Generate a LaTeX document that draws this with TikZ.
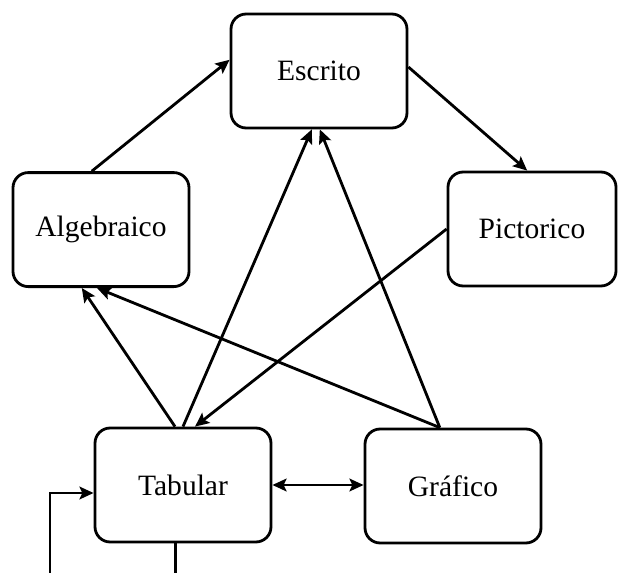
\documentclass[tikz,border=0pt]{standalone}
\usepackage{fontspec}
\setmainfont{Liberation Serif}
\usetikzlibrary{arrows.meta}

\begin{document}
\begin{tikzpicture}[
  repbox/.style={draw, line width=2pt, rounded corners=0.38cm, minimum width=4.4cm, minimum height=2.85cm, font=\fontsize{21}{24}\selectfont},
  arr/.style={line width=2pt, -{Stealth[length=10pt, width=9pt, inset=2pt]}},
  darr/.style={line width=2pt, {Stealth[length=10pt, width=9pt, inset=2pt]}-{Stealth[length=10pt, width=9pt, inset=2pt]}}
]
\useasboundingbox (0, 0) rectangle (15.475, -14.325);
\clip (0, 0) rectangle (15.475, -14.325);
\node [repbox] (esc) at (7.975, -1.775) {Escrito};
\node [repbox] (alg) at (2.525, -5.74) {Algebraico};
\node [repbox, minimum width=4.2cm] (pic) at (13.3, -5.725) {Pictorico};
\node [repbox] (tab) at (4.575, -12.125) {Tabular};
\node [repbox] (gra) at (11.325, -12.15) {Gráfico};
\coordinate (loop) at (1.25, -12.325);
\draw [arr] ([xshift=-0.23cm]alg.north) to ([yshift=0.28cm]esc.west);
\draw [arr] ([yshift=0.1cm]esc.east) to ([xshift=-0.12cm]pic.north);
\draw [arr] (pic.west) to ([xshift=0.3cm]tab.north);
\draw [arr] (tab.north) to ([xshift=-0.18cm]esc.south);
\draw [arr] ([xshift=-0.2cm]tab.north) to ([xshift=-0.48cm]alg.south);
\draw [arr] ([xshift=-0.33cm]gra.north) to ([xshift=0.02cm]esc.south);
\draw [arr] ([xshift=-0.33cm]gra.north) to ([xshift=-0.1cm]alg.south);
\draw [darr] (tab.east) to (gra.west |- tab.east);
\draw [arr] ([xshift=-0.18cm]tab.south) -- ++(0, -1.5) -| (loop) -- ([yshift=-0.2cm]tab.west);
\end{tikzpicture}
\end{document}
